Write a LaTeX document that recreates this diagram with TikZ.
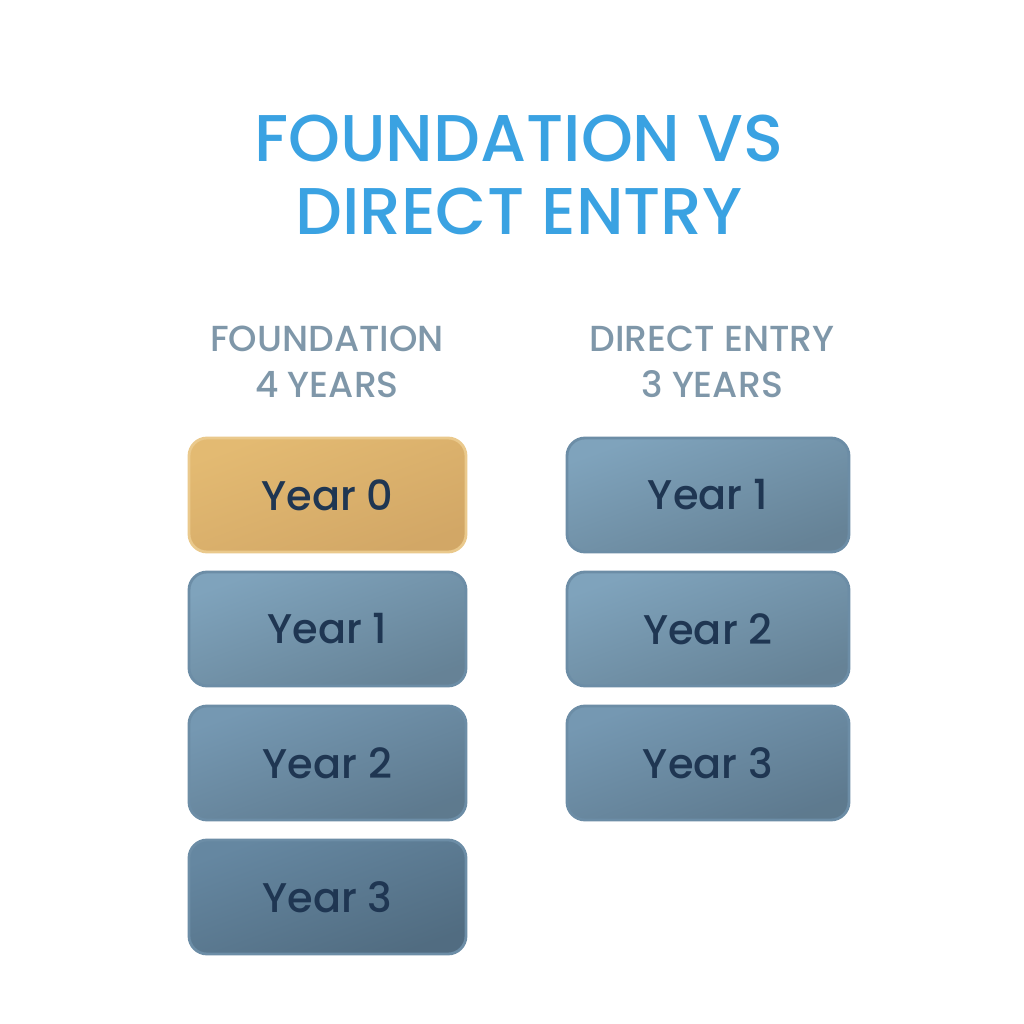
\documentclass[tikz,border=0pt]{standalone}
\usepackage{fontspec}
\setmainfont{Poppins}
\newfontfamily\medfont{Poppins Medium}
\usetikzlibrary{positioning}
\definecolor{titleblue}{HTML}{3AA2E2}
\definecolor{headgray}{HTML}{7F97A9}
\definecolor{yeartext}{HTML}{1F3652}
\definecolor{goldtop}{HTML}{E3BA72}
\definecolor{goldbot}{HTML}{D2A766}
\definecolor{goldedge}{HTML}{EAC98C}
\definecolor{blueedge}{HTML}{6C8DA6}
\definecolor{f1col}{HTML}{7FA3BC}
\definecolor{f2col}{HTML}{7598B2}
\definecolor{f3col}{HTML}{6587A1}
\newcommand{\boxh}{1.14cm}
\newcommand{\boxgap}{0.20cm}
\tikzset{
    titlesty/.style={anchor=base,text=titleblue,font=\medfont\fontsize{18.8}{23}\selectfont},
    headsty/.style={anchor=base,text=headgray,font=\medfont\fontsize{10.3}{13}\selectfont},
    yrsty/.style={rectangle,rounded corners=0.18cm,minimum height=\boxh,outer sep=0pt,
        line width=0.8pt,text=yeartext,font=\medfont\fontsize{11.8}{15}\selectfont},
    goldsty/.style={yrsty,draw=goldedge,top color=goldtop,bottom color=goldbot,shading angle=20},
    lbluesty/.style={yrsty,draw=blueedge,top color=#1,bottom color=#1!80!black,shading angle=20},
}
\begin{document}
\begin{tikzpicture}
  \fill[white] (0,0) rectangle (10.24,10.24);
  \useasboundingbox (0,0) rectangle (10.24,10.24);

  % title
  \node[titlesty] (title1) at (5.19,8.62) {FOUNDATION VS};
  \node[titlesty] (title2) at (5.19,7.89) {DIRECT ENTRY};

  % column headings
  \node[headsty] (fhead1) at (3.27,6.72) {FOUNDATION};
  \node[headsty] (fhead2) at (3.27,6.26) {4 YEARS};
  \node[headsty] (dhead1) at (7.12,6.72) {DIRECT ENTRY};
  \node[headsty] (dhead2) at (7.12,6.26) {3 YEARS};

  % foundation column
  \node[goldsty,minimum width=2.77cm] (f0) at (3.275,5.29) {Year 0};
  \node[lbluesty=f1col,minimum width=2.77cm,below=\boxgap of f0] (f1) {Year 1};
  \node[lbluesty=f2col,minimum width=2.77cm,below=\boxgap of f1] (f2) {Year 2};
  \node[lbluesty=f3col,minimum width=2.77cm,below=\boxgap of f2] (f3) {Year 3};

  % direct entry column
  \node[lbluesty=f1col,minimum width=2.82cm] (d1) at (7.08,5.29) {Year 1};
  \node[lbluesty=f1col,minimum width=2.82cm,below=\boxgap of d1] (d2) {Year 2};
  \node[lbluesty=f2col,minimum width=2.82cm,below=\boxgap of d2] (d3) {Year 3};
\end{tikzpicture}
\end{document}
